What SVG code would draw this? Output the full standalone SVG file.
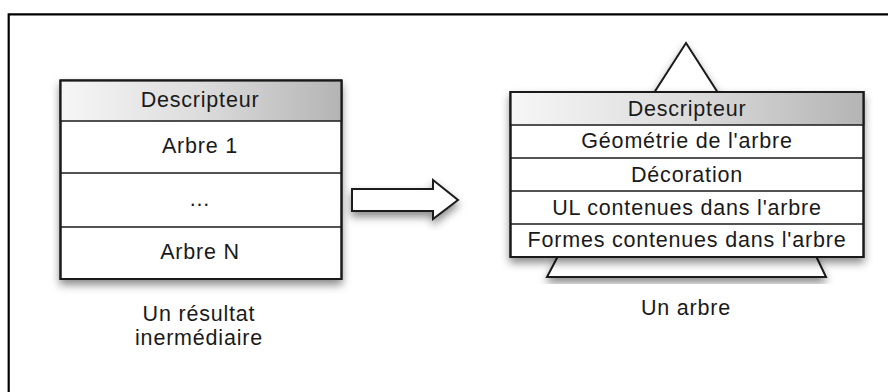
<svg xmlns="http://www.w3.org/2000/svg" width="888" height="392" viewBox="0 0 888 392">
<style>
text{font-family:"Liberation Sans",Arial,sans-serif;font-size:21.5px;letter-spacing:0.8px;fill:#1a1a1a;text-anchor:middle}
.box{fill:#fff;stroke:#1a1a1a;stroke-width:2}
.ln{stroke:#1a1a1a;stroke-width:1.5}
.hdr{fill:url(#g);stroke:#1a1a1a;stroke-width:1.5}
.sh{filter:url(#ds)}
</style>
<defs>
<linearGradient id="g" x1="0" y1="0" x2="1" y2="0">
<stop offset="0" stop-color="#f6f6f6"/>
<stop offset="0.5" stop-color="#dcdcdc"/>
<stop offset="1" stop-color="#b4b4b4"/>
</linearGradient>
<filter id="ds" x="-20%" y="-20%" width="140%" height="150%">
<feDropShadow dx="0" dy="5" stdDeviation="4" flood-color="#000" flood-opacity="0.45"/>
</filter>
</defs>
<rect width="888" height="392" fill="#fff"/>
<g id="frame"><path d="M8.7 392V14.3H888" fill="none" stroke="#000" stroke-width="2.2"/></g>
<g id="resultat">
<rect class="box sh" x="60.5" y="80.5" width="281" height="198.5"/>
<rect class="hdr" x="60.5" y="80.5" width="281" height="40.5"/>
<line class="ln" x1="60.5" y1="173" x2="341.5" y2="173"/>
<line class="ln" x1="60.5" y1="227" x2="341.5" y2="227"/>
<rect x="60.5" y="80.5" width="281" height="198.5" fill="none" stroke="#1a1a1a" stroke-width="2"/>
<text x="200" y="107">Descripteur</text>
<text x="200" y="153">Arbre 1</text>
<text x="200" y="206">...</text>
<text x="200" y="259">Arbre N</text>
<text x="199" y="321">Un résultat</text>
<text x="199" y="345">inermédiaire</text>
</g>
<g id="connectors">
<polygon class="box sh" points="352,189 433,189 433,180 458,200 433,219 433,211 352,211" stroke-width="1.8"/>
</g>
<g id="arbre">
<polygon class="box sh" points="686,43 720,96 652,96" stroke-width="1.5"/>
<polygon class="box sh" points="558,256 816,256 826,277 547,277" stroke-width="1.5"/>
<rect class="box sh" x="510.5" y="92" width="353" height="165"/>
<rect class="hdr" x="510.5" y="92" width="353" height="33"/>
<line class="ln" x1="510.5" y1="158" x2="863.5" y2="158"/>
<line class="ln" x1="510.5" y1="191" x2="863.5" y2="191"/>
<line class="ln" x1="510.5" y1="224" x2="863.5" y2="224"/>
<rect x="510.5" y="92" width="353" height="165" fill="none" stroke="#1a1a1a" stroke-width="2"/>
<text x="687" y="116">Descripteur</text>
<text x="687" y="148">Géométrie de l'arbre</text>
<text x="687" y="182">Décoration</text>
<text x="687" y="215">UL contenues dans l'arbre</text>
<text x="687" y="247">Formes contenues dans l'arbre</text>
<text x="686" y="315">Un arbre</text>
</g>
</svg>
